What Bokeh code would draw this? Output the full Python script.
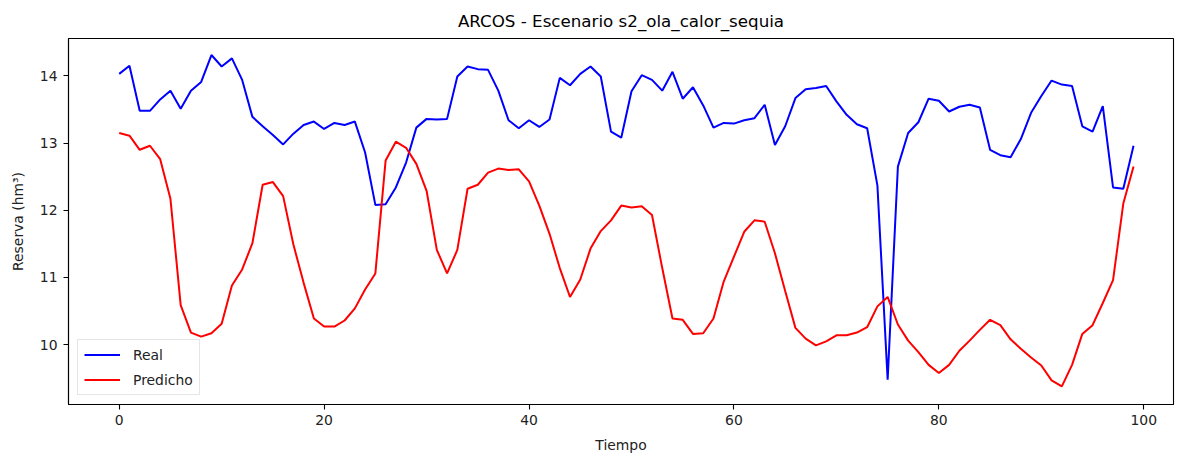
from bokeh.plotting import figure
from bokeh.models import Range1d, FixedTicker, Legend, LegendItem
from bokeh.embed import file_html
from bokeh.resources import INLINE

tiempo = list(range(100))
real = [14.03, 14.15, 13.48, 13.48, 13.65, 13.78, 13.51, 13.78, 13.91, 14.31,
        14.14, 14.26, 13.94, 13.39, 13.25, 13.12, 12.98, 13.14, 13.27, 13.32,
        13.21, 13.30, 13.27, 13.32, 12.86, 12.08, 12.09, 12.34, 12.71, 13.23,
        13.36, 13.35, 13.36, 13.99, 14.14, 14.10, 14.09, 13.78, 13.34, 13.22,
        13.34, 13.24, 13.35, 13.97, 13.86, 14.03, 14.14, 13.99, 13.17, 13.08,
        13.77, 14.01, 13.94, 13.78, 14.06, 13.66, 13.83, 13.56, 13.23, 13.30,
        13.29, 13.34, 13.37, 13.57, 12.97, 13.25, 13.67, 13.80, 13.82, 13.85,
        13.62, 13.42, 13.28, 13.22, 12.37, 9.48, 12.65, 13.15, 13.31, 13.66,
        13.63, 13.47, 13.54, 13.57, 13.53, 12.90, 12.82, 12.79, 13.06, 13.45,
        13.70, 13.93, 13.87, 13.85, 13.25, 13.17, 13.55, 12.34, 12.32, 12.96]
predicho = [13.15, 13.11, 12.90, 12.96, 12.76, 12.17, 10.59, 10.18, 10.12, 10.17,
            10.31, 10.88, 11.12, 11.51, 12.38, 12.42, 12.21, 11.49, 10.92, 10.39,
            10.27, 10.27, 10.36, 10.54, 10.82, 11.06, 12.74, 13.02, 12.93, 12.69,
            12.29, 11.41, 11.06, 11.41, 12.32, 12.38, 12.56, 12.62, 12.60, 12.61,
            12.43, 12.07, 11.65, 11.14, 10.71, 10.97, 11.43, 11.69, 11.85, 12.07,
            12.04, 12.06, 11.93, 11.14, 10.39, 10.37, 10.16, 10.17, 10.39, 10.94,
            11.31, 11.68, 11.85, 11.83, 11.36, 10.80, 10.25, 10.09, 9.99, 10.05,
            10.14, 10.14, 10.18, 10.26, 10.57, 10.71, 10.30, 10.06, 9.89, 9.70,
            9.58, 9.70, 9.91, 10.06, 10.22, 10.37, 10.29, 10.08, 9.94, 9.81,
            9.69, 9.47, 9.38, 9.70, 10.16, 10.29, 10.62, 10.96, 12.10, 12.65]
x_ticks = [0, 20, 40, 60, 80, 100]
y_ticks = [10, 11, 12, 13, 14]

FONT = "DejaVu Sans"

p = figure(width=1180, height=455, output_backend="svg", toolbar_location=None,
           x_range=Range1d(-4.95, 102.9), y_range=Range1d(9.11, 14.556),
           min_border_left=68, min_border_right=7, min_border_top=35,
           min_border_bottom=51,
           title="ARCOS - Escenario s2_ola_calor_sequia")

p.title.align = "center"
p.title.text_font = FONT
p.title.text_font_size = "16.7px"
p.title.text_font_style = "normal"
p.title.text_color = "#000000"
p.title.standoff = 16

p.grid.visible = False
p.outline_line_color = "black"
p.outline_line_width = 1.1
p.outline_line_alpha = 1.0

for ax in (p.xaxis[0], p.yaxis[0]):
    ax.axis_line_color = "black"
    ax.axis_line_width = 1.1
    ax.major_tick_line_color = "black"
    ax.major_tick_line_width = 1.1
    ax.major_tick_out = 5
    ax.major_tick_in = 0
    ax.minor_tick_line_color = None
    ax.major_label_text_font = FONT
    ax.major_label_text_font_size = "13.9px"
    ax.major_label_text_color = "#222222"
    ax.axis_label_text_font = FONT
    ax.axis_label_text_font_size = "13.9px"
    ax.axis_label_text_font_style = "normal"
    ax.axis_label_text_color = "#222222"

p.xaxis[0].ticker = FixedTicker(ticks=x_ticks)
p.yaxis[0].ticker = FixedTicker(ticks=y_ticks)
p.xaxis[0].axis_label = "Tiempo"
p.yaxis[0].axis_label = "Reserva (hm³)"
p.xaxis[0].major_label_standoff = 5
p.yaxis[0].major_label_standoff = 6
p.xaxis[0].axis_label_standoff = 9
p.yaxis[0].axis_label_standoff = 11

r1 = p.line(tiempo, real, line_color="#0000ff", line_width=2)
r2 = p.line(tiempo, predicho, line_color="#ff0000", line_width=2)

legend = Legend(items=[LegendItem(label="Real", renderers=[r1]),
                       LegendItem(label="Predicho", renderers=[r2])],
                location=(9, 9), margin=0, padding=6, spacing=8,
                glyph_width=36, glyph_height=17, label_height=17,
                label_standoff=13, label_text_font=FONT,
                label_text_font_size="13.9px", label_text_color="#222222",
                border_line_color="#cccccc", border_line_width=1,
                background_fill_color="white", background_fill_alpha=0.8)
p.add_layout(legend, "center")

open("out.html", "w").write(file_html(p, INLINE))
